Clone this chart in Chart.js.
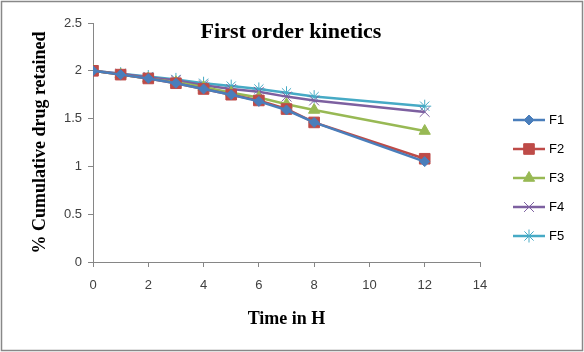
<!DOCTYPE html>
<html>
<head>
<meta charset="utf-8">
<script src="https://cdn.jsdelivr.net/npm/chart.js@4/dist/chart.umd.min.js"></script>
<style>
  html, body { margin: 0; padding: 0; background: #fff; }
  #wrap { position: relative; width: 584px; height: 352px; }
</style>
</head>
<body>
<div id="wrap"><canvas id="c" width="584" height="352"></canvas></div>
<script>
// time points (h)
const hours = [0, 1, 2, 3, 4, 5, 6, 7, 8, 12];

// log % cumulative drug retained
const f1 = [2, 1.96, 1.92, 1.87, 1.81, 1.75, 1.68, 1.59, 1.46, 1.05];
const f2 = [2, 1.96, 1.92, 1.87, 1.81, 1.75, 1.69, 1.60, 1.46, 1.08];
const f3 = [2, 1.96, 1.92, 1.88, 1.83, 1.77, 1.72, 1.65, 1.59, 1.37];
const f4 = [2, 1.97, 1.93, 1.90, 1.85, 1.81, 1.78, 1.73, 1.69, 1.57];
const f5 = [2, 1.97, 1.94, 1.91, 1.87, 1.84, 1.81, 1.77, 1.73, 1.63];

const names  = ['F1', 'F2', 'F3', 'F4', 'F5'];
const colors = ['#4a7ebb', '#be4b48', '#98b954', '#7d60a0', '#46aac5'];
const marks  = ['rectRot', 'rect', 'triangle', 'crossRot', 'star'];
const sizes  = [5, 7.5, 6.5, 7, 6.5];

const yTicks = [0, 0.5, 1, 1.5, 2, 2.5];

const series = [f1, f2, f3, f4, f5];

const datasets = series.map((vals, i) => ({
  label: names[i],
  data: vals.map((v, j) => ({ x: hours[j], y: v })),
  borderColor: colors[i],
  backgroundColor: colors[i],
  pointBackgroundColor: colors[i],
  pointBorderColor: colors[i],
  pointStyle: marks[i],
  pointRadius: sizes[i],
  pointBorderWidth: 1,
  borderWidth: 2.5,
  tension: 0
}));

const chartTitle = {
  id: 'chartTitle',
  afterDraw(chart) {
    const ctx = chart.ctx;
    ctx.save();
    ctx.font = 'bold 22px "Liberation Serif", "Times New Roman", serif';
    ctx.fillStyle = '#000';
    ctx.textAlign = 'center';
    ctx.textBaseline = 'middle';
    ctx.fillText('First order kinetics', 291, 32);
    ctx.restore();
  }
};

const sideLegend = {
  id: 'sideLegend',
  afterDraw(chart) {
    const ctx = chart.ctx;
    ctx.save();
    chart.data.datasets.forEach((ds, i) => {
      const y = 120 + i * 29;
      ctx.strokeStyle = ds.borderColor;
      ctx.lineWidth = 2.5;
      ctx.beginPath();
      ctx.moveTo(513, y);
      ctx.lineTo(545, y);
      ctx.stroke();
      ctx.fillStyle = ds.borderColor;
      ctx.strokeStyle = ds.borderColor;
      ctx.lineWidth = 1;
      Chart.helpers.drawPoint(ctx, {
        pointStyle: ds.pointStyle,
        radius: ds.pointRadius,
        borderWidth: 1
      }, 529, y);
      ctx.fillStyle = '#000';
      ctx.font = '13px "Liberation Sans", Arial, sans-serif';
      ctx.textAlign = 'left';
      ctx.textBaseline = 'middle';
      ctx.fillText(ds.label, 549, y);
    });
    // outer frame
    ctx.strokeStyle = '#888';
    ctx.lineWidth = 1.5;
    ctx.strokeRect(1.5, 1.5, 581, 349);
    ctx.restore();
  }
};

const tickFont = { family: '"Liberation Sans", Arial, sans-serif', size: 13 };
const titleFont = { family: '"Liberation Serif", "Times New Roman", serif', size: 18, weight: 'bold' };

new Chart(document.getElementById('c'), {
  type: 'line',
  data: { datasets },
  options: {
    responsive: false,
    animation: false,
    layout: { padding: { left: 26, right: 104, top: 23, bottom: 18 } },
    plugins: {
      legend: { display: false },
      tooltip: { enabled: false }
    },
    scales: {
      x: {
        type: 'linear',
        min: 0, max: 14,
        afterFit(s) { s.height = 352 - 262 - 18; },
        ticks: { stepSize: 2, color: '#404040', font: tickFont, padding: 11 },
        grid: { drawOnChartArea: false, drawTicks: true, tickLength: 5, color: '#868686' },
        border: { color: '#868686', width: 1 },
        title: { display: true, text: 'Time in H', color: '#000', font: titleFont }
      },
      y: {
        min: 0, max: 2.5,
        afterFit(s) { s.width = 93 - 26; },
        afterBuildTicks(s) { s.ticks = yTicks.map(v => ({ value: v })); },
        ticks: { color: '#404040', font: tickFont, padding: 6, callback: v => String(v) },
        grid: { drawOnChartArea: false, drawTicks: true, tickLength: 5, color: '#868686' },
        border: { color: '#868686', width: 1 },
        title: { display: true, text: '% Cumulative drug retained', color: '#000', font: titleFont }
      }
    }
  },
  plugins: [chartTitle, sideLegend]
});
</script>
</body>
</html>
